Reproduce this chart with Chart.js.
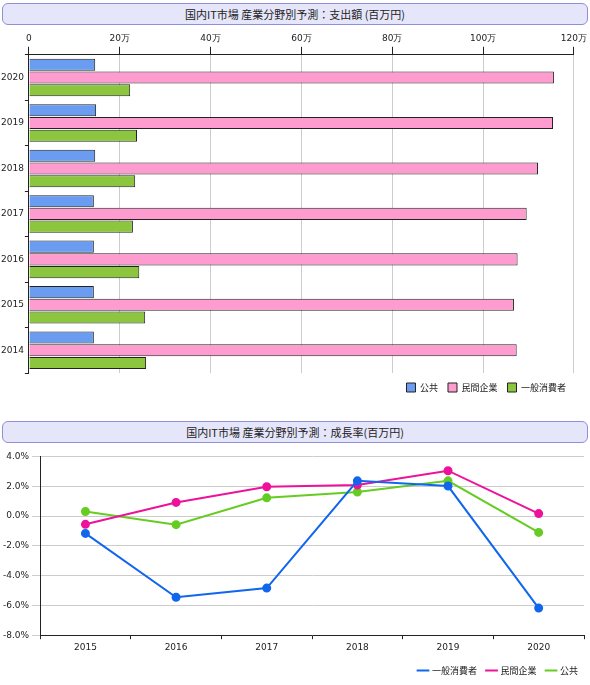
<!DOCTYPE html>
<html><head><meta charset="utf-8">
<script src="https://cdn.jsdelivr.net/npm/chart.js@4"></script>
<style>
body{margin:0;background:#fff;font-family:"Noto Sans CJK JP","DejaVu Sans",sans-serif;}
.ttl{position:absolute;left:2px;width:584px;height:20px;border:1px solid #8f8fd8;border-radius:6px;background:#e6e6fa;text-align:center;font-size:11px;line-height:20px;color:#222}
.box{position:absolute}
</style></head><body>
<div class="ttl" style="top:3px">国内IT市場 産業分野別予測：支出額 (百万円)</div>
<div class="box" style="left:0;top:30px;width:590px;height:372px"><canvas id="cBar"></canvas></div>
<div class="ttl" style="top:421px">国内IT市場 産業分野別予測：成長率(百万円)</div>
<div class="box" style="left:0;top:448px;width:590px;height:237px"><canvas id="cLine"></canvas></div>
<script>
// ── 支出額 (単位: 万) ──
var years=['2020','2019','2018','2017','2016','2015','2014'];
var koukyou=[146000,148000,146000,143000,143000,143000,143000];
var minkan=[1156000,1154000,1121000,1096000,1076000,1068000,1074000];
var ippan=[223000,238000,234000,229000,243000,256000,258000];
// ── 成長率 ──
var gYears=['2015','2016','2017','2018','2019','2020'];
var gIppan=[-1.17,-5.45,-4.84,2.36,2.01,-6.18];
var gMinkan=[-0.56,0.91,1.96,2.08,3.04,0.16];
var gKoukyou=[0.3,-0.58,1.22,1.61,2.36,-1.1];

Chart.defaults.font.family='"DejaVu Sans",sans-serif';
Chart.defaults.font.size=9;
Chart.defaults.color='#222';
Chart.defaults.animation=false;

new Chart(document.getElementById('cBar'),{type:'bar',
  data:{labels:years,datasets:[
    {label:'公共',data:koukyou,backgroundColor:'#6a9cf2',borderColor:'#222',borderWidth:1},
    {label:'民間企業',data:minkan,backgroundColor:'#ff9ccf',borderColor:'#222',borderWidth:1},
    {label:'一般消費者',data:ippan,backgroundColor:'#8cc63f',borderColor:'#222',borderWidth:1}]},
  options:{indexAxis:'y',responsive:true,maintainAspectRatio:false,
    layout:{padding:{left:0,right:14,top:0}},
    plugins:{legend:{position:'bottom',align:'end',labels:{boxWidth:9,boxHeight:9,font:{family:'"Noto Sans CJK JP",sans-serif',size:9}}}},
    datasets:{bar:{categoryPercentage:0.84,barPercentage:0.95}},
    scales:{
      x:{position:'top',min:0,max:1200000,ticks:{stepSize:200000,callback:function(v){return v?(v/10000)+'万':'0';}},grid:{color:'#ccc',tickColor:'#222'},border:{color:'#222'}},
      y:{grid:{offset:true,drawOnChartArea:false,tickColor:'#222',tickLength:4},ticks:{padding:1},border:{color:'#222'}}}}});

new Chart(document.getElementById('cLine'),{type:'line',
  data:{labels:gYears,datasets:[
    {label:'一般消費者',data:gIppan,borderColor:'#1166ee',backgroundColor:'#1166ee',borderWidth:2,pointRadius:3.5},
    {label:'民間企業',data:gMinkan,borderColor:'#ee1199',backgroundColor:'#ee1199',borderWidth:2,pointRadius:3.5},
    {label:'公共',data:gKoukyou,borderColor:'#66cc22',backgroundColor:'#66cc22',borderWidth:2,pointRadius:3.5}]},
  options:{responsive:true,maintainAspectRatio:false,
    layout:{padding:{right:2,top:4}},
    plugins:{legend:{position:'bottom',align:'end',labels:{usePointStyle:true,pointStyle:'line',boxWidth:20,font:{family:'"Noto Sans CJK JP",sans-serif',size:9}}}},
    scales:{
      x:{offset:true,grid:{offset:true,drawOnChartArea:false,tickColor:'#222',tickLength:4},border:{color:'#222'}},
      y:{min:-8,max:4,ticks:{stepSize:2,callback:function(v){return v.toFixed(1)+'%';}},grid:{color:'#ccc'},border:{color:'#222'}}}}});
</script></body></html>
